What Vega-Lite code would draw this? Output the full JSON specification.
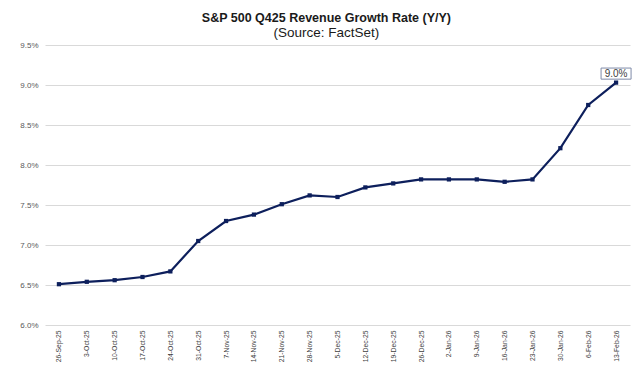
{
  "$schema": "https://vega.github.io/schema/vega-lite/v6.json",
  "width": 585,
  "height": 280,
  "padding": {"left": 19, "top": 12, "right": 10, "bottom": 5},
  "background": "white",
  "title": {
    "text": "S&P 500 Q425 Revenue Growth Rate (Y/Y)",
    "subtitle": "(Source: FactSet)",
    "font": "Liberation Sans",
    "fontSize": 12.5,
    "fontWeight": "bold",
    "color": "#1a1a1a",
    "subtitleFont": "Liberation Sans",
    "subtitleFontSize": 13.5,
    "subtitleColor": "#1a1a1a",
    "subtitlePadding": 1,
    "anchor": "middle",
    "frame": "bounds",
    "offset": 2
  },
  "config": {
    "view": {"stroke": null},
    "axis": {"labelFont": "Liberation Sans", "domain": false, "ticks": false}
  },
  "data": {
    "values": [
      {"date": "26-Sep-25", "rate": 6.51},
      {"date": "3-Oct-25", "rate": 6.54},
      {"date": "10-Oct-25", "rate": 6.56},
      {"date": "17-Oct-25", "rate": 6.60},
      {"date": "24-Oct-25", "rate": 6.67},
      {"date": "31-Oct-25", "rate": 7.05},
      {"date": "7-Nov-25", "rate": 7.30},
      {"date": "14-Nov-25", "rate": 7.38},
      {"date": "21-Nov-25", "rate": 7.51},
      {"date": "28-Nov-25", "rate": 7.62},
      {"date": "5-Dec-25", "rate": 7.60},
      {"date": "12-Dec-25", "rate": 7.72},
      {"date": "19-Dec-25", "rate": 7.77},
      {"date": "26-Dec-25", "rate": 7.82},
      {"date": "2-Jan-26", "rate": 7.82},
      {"date": "9-Jan-26", "rate": 7.82},
      {"date": "16-Jan-26", "rate": 7.79},
      {"date": "23-Jan-26", "rate": 7.82},
      {"date": "30-Jan-26", "rate": 8.21},
      {"date": "6-Feb-26", "rate": 8.75},
      {"date": "13-Feb-26", "rate": 9.03, "label": "9.0%"}
    ]
  },
  "encoding": {
    "x": {
      "field": "date",
      "type": "ordinal",
      "sort": null,
      "scale": {"type": "point", "padding": 0.5},
      "axis": {
        "title": null,
        "labelAngle": 270,
        "labelFontSize": 6.8,
        "labelColor": "#404040",
        "labelPadding": 5,
        "grid": false
      }
    },
    "y": {
      "field": "rate",
      "type": "quantitative",
      "scale": {"domain": [6, 9.5], "nice": false, "zero": false},
      "axis": {
        "title": null,
        "values": [6, 6.5, 7, 7.5, 8, 8.5, 9, 9.5],
        "labelExpr": "format(datum.value, '.1f') + '%'",
        "labelFontSize": 8,
        "labelColor": "#595959",
        "labelPadding": 7,
        "grid": true,
        "gridColor": "#d9d9d9",
        "gridWidth": 1
      }
    }
  },
  "layer": [
    {"mark": {"type": "line", "color": "#0d1f5c", "strokeWidth": 2.2}},
    {"mark": {"type": "point", "shape": "square", "filled": true, "color": "#0d1f5c", "size": 18, "opacity": 1}},
    {
      "transform": [{"filter": "datum.label"}],
      "mark": {"type": "point", "shape": "M-1,-0.37H1V0.37H-1Z", "size": 900, "filled": false, "stroke": "#7f8aa8", "strokeWidth": 1, "yOffset": -9, "opacity": 1, "fill": "white"}
    },
    {
      "transform": [{"filter": "datum.label"}],
      "mark": {"type": "text", "font": "Liberation Sans", "fontSize": 10, "color": "#404040", "yOffset": -9, "baseline": "middle"},
      "encoding": {"text": {"field": "label"}}
    }
  ]
}
